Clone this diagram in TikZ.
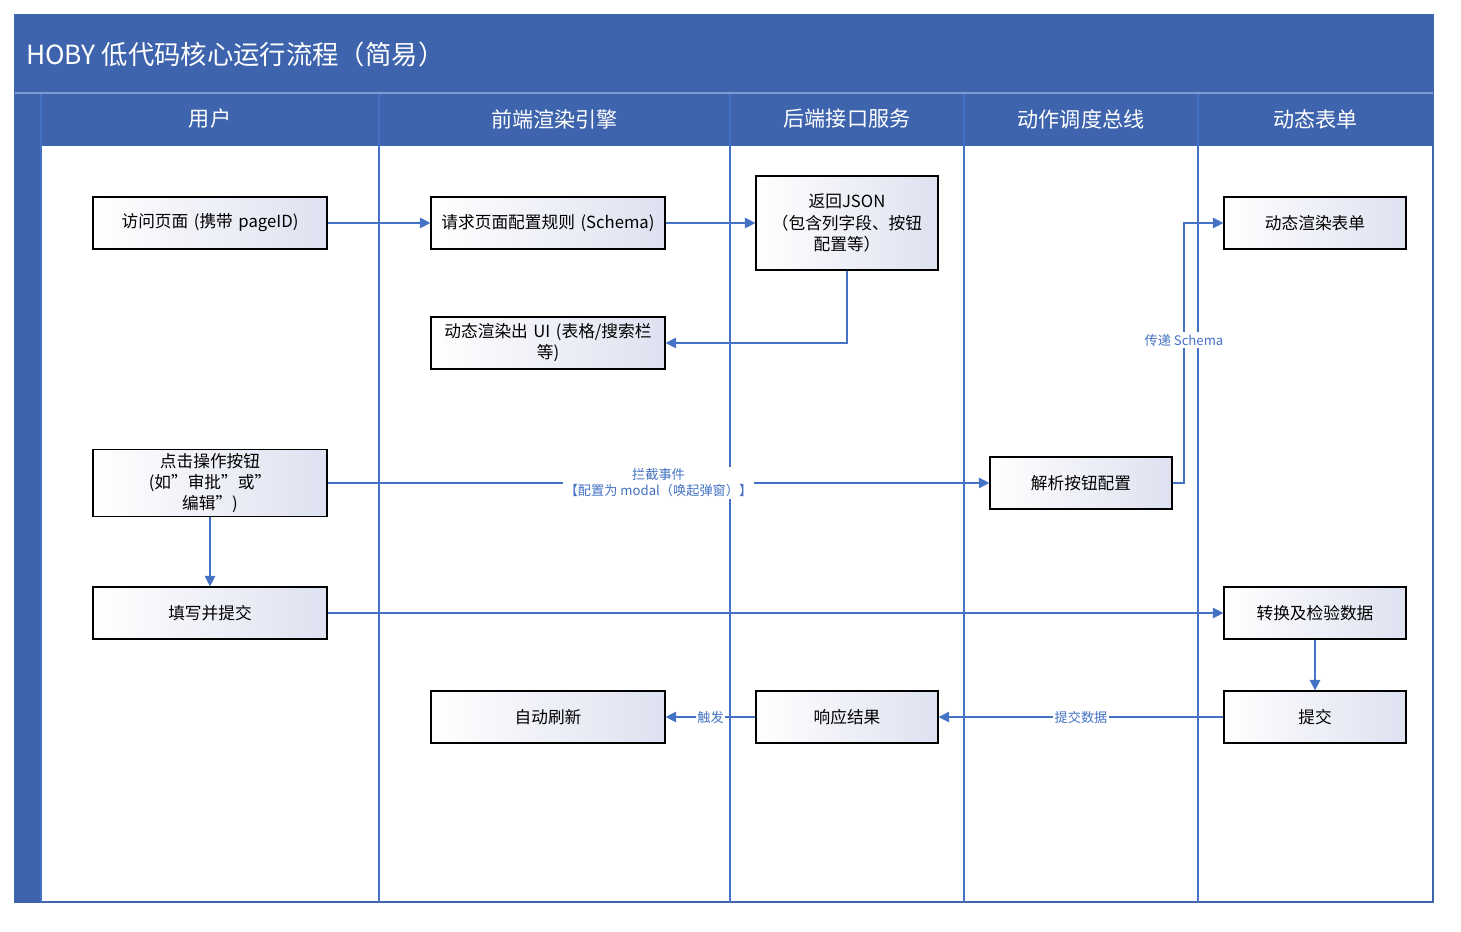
\documentclass[tikz,border=0pt]{standalone}
\usepackage{fontspec}
\setmainfont{Noto Sans CJK SC}
\usetikzlibrary{arrows.meta}
\definecolor{hb}{RGB}{63,100,174}
\definecolor{ln}{RGB}{68,114,196}
\definecolor{lav}{RGB}{222,225,240}
\begin{document}
\begin{tikzpicture}[x=0.02cm,y=-0.02cm,
  box/.style={draw=black,line width=0.7pt,left color=white,right color=lav,align=center,font=\fontsize{9.5}{12}\selectfont,inner sep=2pt},
  ar/.style={draw=ln,line width=0.8pt,-{Triangle[length=6pt,width=6pt]}},
  lab/.style={font=\fontsize{7.5}{9}\selectfont,text=ln,fill=white,inner sep=1pt}]
\useasboundingbox (0,0) rectangle (1461,932);
% frame
\fill[hb] (15,15) rectangle (1433,146);
\fill[hb] (15,93) rectangle (41,902);
\draw[hb,line width=0.8pt] (15,15) rectangle (1433,902);
\node[anchor=west,text=white,font=\fontsize{15}{18}\selectfont] (title) at (20,54) {HOBY 低代码核心运行流程（简易）};
\foreach \x in {41,379,730,964,1198} \draw[ln,line width=0.8pt] (\x,93) -- (\x,902);
\draw[ln!70!white,line width=0.6pt] (15,93) -- (1433,93);
\foreach \a/\b/\t in {41/379/用户,379/730/前端渲染引擎,730/964/后端接口服务,964/1198/动作调度总线,1198/1433/动态表单}
  \node[text=white,font=\fontsize{12}{14}\selectfont] at ({(\a+\b)/2},119) {\t};
% boxes
\newcommand{\bx}[6]{\node[box,minimum width={(#4-#2)*0.02cm},minimum height={(#5-#3)*0.02cm},text width={(#4-#2)*0.02cm-6pt}] (#1) at ({(#2+#4)/2},{(#3+#5)/2}) {#6};}
\bx{a}{93}{197}{327}{249}{访问页面 (携带 pageID)}
\bx{b}{431}{197}{665}{249}{请求页面配置规则 (Schema)}
\bx{c}{756}{176}{938}{270}{返回JSON\\（包含列字段、按钮\\配置等）}
\bx{d}{431}{317}{665}{369}{动态渲染出 UI (表格/搜索栏\\等)}
\bx{e}{1224}{197}{1406}{249}{动态渲染表单}
\bx{f}{93}{457}{327}{509}{点击操作按钮 (如"审批"或"\\编辑")}
\bx{g}{990}{457}{1172}{509}{解析按钮配置}
\bx{h}{93}{587}{327}{639}{填写并提交}
\bx{i}{1224}{587}{1406}{639}{转换及检验数据}
\bx{j}{431}{691}{665}{743}{自动刷新}
\bx{k}{756}{691}{938}{743}{响应结果}
\bx{l}{1224}{691}{1406}{743}{提交}
% edges
\draw[ar] (a) -- (b);
\draw[ar] (b) -- (c.west|-b);
\draw[ar] (c.south) |- (d.east);
\draw[ar] (f) -- node[lab,align=center]{拦截事件\\【配置为 modal（唤起弹窗）】} (g);
\draw[ar] (g.east) -- (1184,483) -- node[lab,pos=0.55]{传递 Schema} (1184,223) -- (e.west);
\draw[ar] (f) -- (h);
\draw[ar] (h) -- (i);
\draw[ar] (i) -- (l);
\draw[ar] (l) -- node[lab]{提交数据} (k);
\draw[ar] (k) -- node[lab]{触发} (j);
\end{tikzpicture}
\end{document}
